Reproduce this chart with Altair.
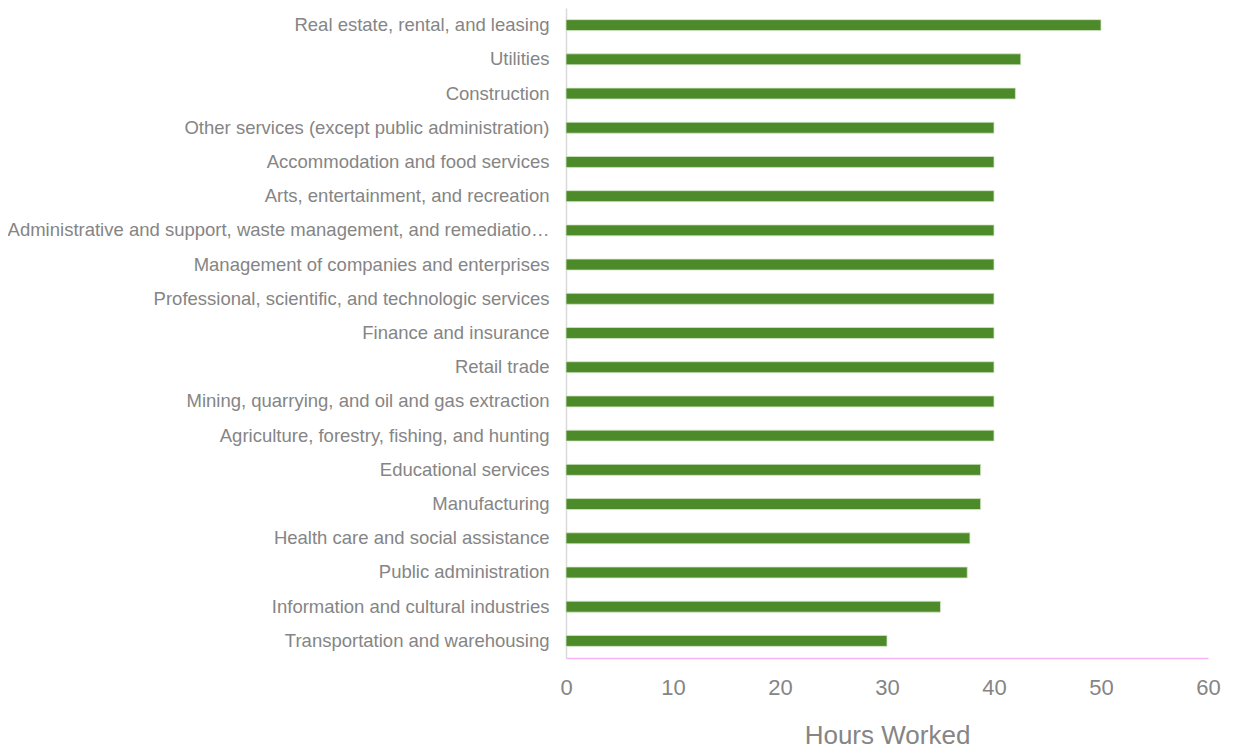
import altair as alt
import pandas as pd

industries = [
    "Real estate, rental, and leasing",
    "Utilities",
    "Construction",
    "Other services (except public administration)",
    "Accommodation and food services",
    "Arts, entertainment, and recreation",
    "Administrative and support, waste management, and remediation services",
    "Management of companies and enterprises",
    "Professional, scientific, and technologic services",
    "Finance and insurance",
    "Retail trade",
    "Mining, quarrying, and oil and gas extraction",
    "Agriculture, forestry, fishing, and hunting",
    "Educational services",
    "Manufacturing",
    "Health care and social assistance",
    "Public administration",
    "Information and cultural industries",
    "Transportation and warehousing",
]
hours = [50, 42.5, 42, 40, 40, 40, 40, 40, 40, 40, 40, 40, 40, 38.75, 38.75, 37.75, 37.5, 35, 30]
x_ticks = [0, 10, 20, 30, 40, 50, 60]

df = pd.DataFrame({"industry": industries, "hours": hours})

gray = "#858585"
font = "Liberation Sans"

chart = (
    alt.Chart(df)
    .mark_bar(color="#4d8a2a", stroke="#d3e6c8", strokeWidth=0.8)
    .encode(
        x=alt.X(
            "hours:Q",
            scale=alt.Scale(domain=[0, 60], nice=False),
            axis=alt.Axis(
                title="Hours Worked",
                values=x_ticks,
                grid=False,
                ticks=False,
                domainColor="#f7b3f5",
                domainWidth=1.5,
                labelFont=font,
                labelFontSize=22,
                labelColor=gray,
                labelPadding=19,
                labelFlush=False,
                labelOverlap=False,
                titleFont=font,
                titleFontSize=26,
                titleFontWeight="normal",
                titleColor=gray,
                titlePadding=24,
            ),
        ),
        y=alt.Y(
            "industry:N",
            sort=industries,
            scale=alt.Scale(paddingInner=0.68, paddingOuter=0.34),
            axis=alt.Axis(
                title=None,
                ticks=False,
                domainColor="#d9d9d9",
                domainWidth=1.5,
                labelFont=font,
                labelFontSize=18.5,
                labelColor=gray,
                labelPadding=17,
                labelLimit=546,
            ),
        ),
    )
    .properties(
        width=642,
        height=650,
        autosize=alt.AutoSizeParams(type="none"),
        padding={"left": 558, "top": 0, "right": 20, "bottom": 92},
    )
    .configure_view(stroke=None)
)

chart.save("out.html", embed_options={"renderer": "svg", "actions": False})
